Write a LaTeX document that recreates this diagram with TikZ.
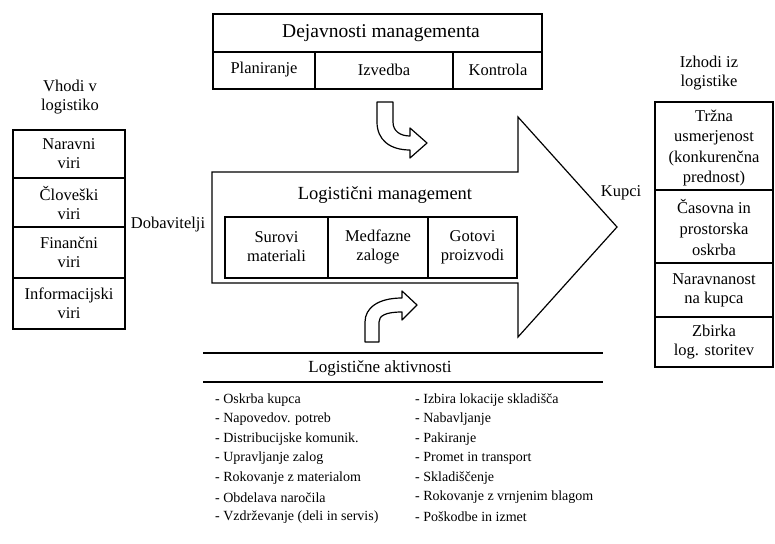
\documentclass[tikz,border=0pt]{standalone}
\usepackage{fontspec}
\setmainfont{Liberation Serif}
\begin{document}
\begin{tikzpicture}[x=1pt,y=-1pt,
  frame/.style={draw=black,line width=1.2pt},
  boxtext/.style={font=\fontsize{16.5}{19}\selectfont,align=center,inner sep=0pt},
  bigtitle/.style={font=\fontsize{19.5}{22}\selectfont,inner sep=0pt},
  listitem/.style={font=\fontsize{14}{17}\selectfont,anchor=west,inner sep=0pt},
  bentarrow/.style={draw=black,line width=1.2pt,fill=white,line join=round}]
\useasboundingbox (0,0) rectangle (775,543);

% management activities (top)
\draw[frame] (213,14) rectangle (542,89);
\draw[frame] (213,52) -- (542,52);
\draw[frame] (315,52) -- (315,89);
\draw[frame] (453,52) -- (453,89);
\node[bigtitle] (dej) at (381,33) {Dejavnosti managementa};
\node[boxtext] (plan) at (264,70) {Planiranje};
\node[boxtext] (izv) at (384,70) {Izvedba};
\node[boxtext] (kon) at (498,70) {Kontrola};

% bent arrow from the top box into the flow
\draw[bentarrow] (377,102) -- (393,102) -- (393,122)
  .. controls (393,131) and (400,136) .. (410,136) -- (410,128)
  -- (427,143) -- (410,158) -- (410,150)
  .. controls (390,150) and (377,140) .. (377,122) -- cycle;

% main logistics arrow
\draw[frame,line join=miter] (212,172) -- (518,172) -- (518,117) -- (617,227)
  -- (518,337) -- (518,283) -- (212,283) -- cycle;
\node[bigtitle,font=\fontsize{18.5}{21}\selectfont] (lm) at (385,195) {Logistični management};
\draw[frame] (225,217) rectangle (517,278);
\draw[frame] (328,217) -- (328,278);
\draw[frame] (428,217) -- (428,278);
\node[boxtext] (sur) at (276.5,247) {Surovi\\materiali};
\node[boxtext] (med) at (378,247) {Medfazne\\zaloge};
\node[boxtext] (got) at (472.5,247) {Gotovi\\proizvodi};

\node[boxtext] (dob) at (168,225) {Dobavitelji};
\node[boxtext] (kup) at (621,193) {Kupci};

% inputs (left)
\node[boxtext] (vt) at (70,97) {Vhodi v\\logistiko};
\draw[frame] (13,130) rectangle (125,329);
\draw[frame] (13,178) -- (125,178);
\draw[frame] (13,227) -- (125,227);
\draw[frame] (13,278) -- (125,278);
\node[boxtext] (nar) at (69,154) {Naravni\\viri};
\node[boxtext] (clo) at (69,202.5) {Človeški\\viri};
\node[boxtext] (fin) at (69,252.5) {Finančni\\viri};
\node[boxtext] (inf) at (69,303.5) {Informacijski\\viri};

% outputs (right)
\node[boxtext] (it) at (709,73) {Izhodi iz\\logistike};
\draw[frame] (655,102) rectangle (773,367);
\draw[frame] (655,190) -- (773,190);
\draw[frame] (655,263) -- (773,263);
\draw[frame] (655,317) -- (773,317);
\node[boxtext,font=\fontsize{16.5}{20.5}\selectfont] (trz) at (714,148) {Tržna\\usmerjenost\\(konkurenčna\\prednost)};
\node[boxtext,font=\fontsize{16.5}{21}\selectfont] (cas) at (714,227) {Časovna in\\prostorska\\oskrba};
\node[boxtext] (nrv) at (714,290) {Naravnanost\\na kupca};
\node[boxtext] (zbi) at (714,342) {Zbirka\\log. storitev};

% bent arrow from the activities into the flow
\draw[bentarrow] (365,342) -- (379,342) -- (379,322)
  .. controls (379,316) and (385,312) .. (402,312) -- (402,320)
  -- (417,305) -- (402,291) -- (402,298)
  .. controls (378,298) and (365,308) .. (365,322) -- cycle;

% logistics activities (bottom): title between two rules
\draw[frame] (203,353) -- (603,353);
\draw[frame] (203,382) -- (603,382);
\node[bigtitle,font=\fontsize{17}{20}\selectfont] (la) at (380,368) {Logistične aktivnosti};
\foreach \t [count=\i] in {Oskrba kupca,Napovedov. potreb,Distribucijske komunik.,Upravljanje zalog,Rokovanje z materialom,Obdelava naročila,Vzdrževanje (deli in servis)}
  \node[listitem] (l\i) at (215,{400+19.5*(\i-1)}) {- \t};
\foreach \t [count=\i] in {Izbira lokacije skladišča,Nabavljanje,Pakiranje,Promet in transport,Skladiščenje,Rokovanje z vrnjenim blagom,Poškodbe in izmet}
  \node[listitem] (r\i) at (415,{400+19.5*(\i-1)}) {- \t};
\end{tikzpicture}
\end{document}
